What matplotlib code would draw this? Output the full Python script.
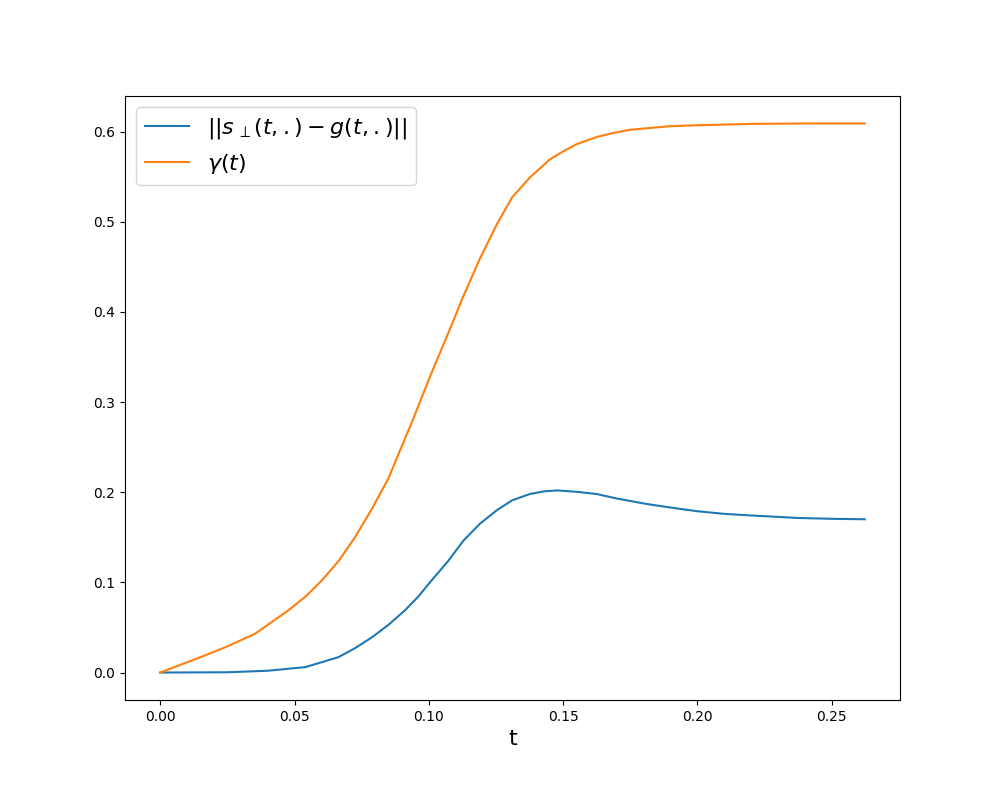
import numpy as np
import matplotlib.pyplot as plt

# values
t_gamma = [0.0, 0.0167, 0.025, 0.0353, 0.0477, 0.054, 0.0601, 0.0665, 0.0725,
           0.0787, 0.0849, 0.094, 0.1004, 0.1066, 0.1128, 0.119, 0.1253, 0.131,
           0.1376, 0.145, 0.150, 0.155, 0.1625, 0.168, 0.1749, 0.19, 0.20,
           0.22, 0.24, 0.2623]
gamma = [0.0, 0.019, 0.029, 0.043, 0.069, 0.084, 0.102, 0.124, 0.150,
         0.181, 0.215, 0.280, 0.328, 0.372, 0.417, 0.459, 0.497, 0.527,
         0.549, 0.569, 0.578, 0.586, 0.594, 0.598, 0.602, 0.606, 0.607,
         0.6085, 0.609, 0.609]

t_dist = [0.0, 0.025, 0.04, 0.054, 0.0663, 0.0725, 0.0788, 0.085, 0.0911,
          0.096, 0.1004, 0.107, 0.1128, 0.119, 0.1253, 0.131, 0.1376, 0.143,
          0.1476, 0.155, 0.1625, 0.17, 0.181, 0.19, 0.1997, 0.21, 0.2183,
          0.2369, 0.25, 0.2623]
dist = [0.0, 0.0003, 0.002, 0.006, 0.017, 0.027, 0.039, 0.053, 0.069,
        0.084, 0.100, 0.123, 0.146, 0.165, 0.180, 0.191, 0.198, 0.201,
        0.202, 0.2005, 0.198, 0.193, 0.187, 0.183, 0.179, 0.176, 0.1745,
        0.1715, 0.1705, 0.170]

fig = plt.figure(figsize=(10, 8))
plt.subplots_adjust(bottom=0.125)
plt.plot(t_dist, dist, label=r'$||s_{\,\perp}(t,.)-g(t,.)||$')
plt.plot(t_gamma, gamma, label=r'$\gamma(t)$')
plt.xlabel('t', fontsize=16)
plt.legend(fontsize=16, loc='upper left')
plt.savefig('out.png')
